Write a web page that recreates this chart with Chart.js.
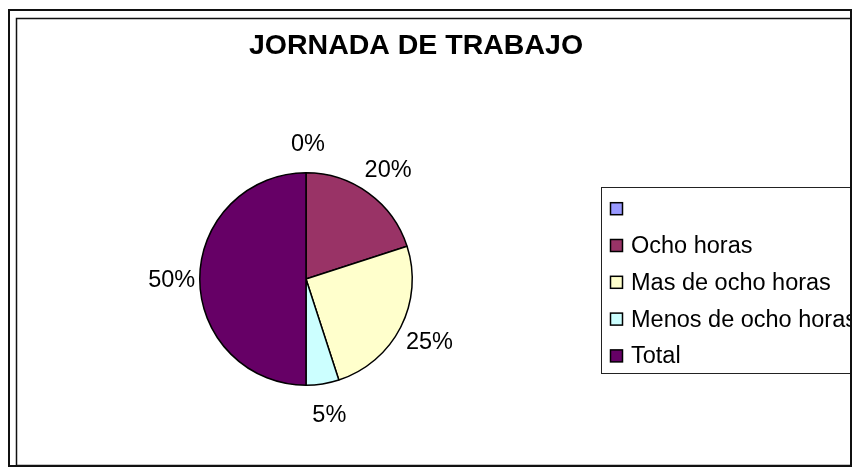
<!DOCTYPE html>
<html>
<head>
<meta charset="utf-8">
<script src="https://cdn.jsdelivr.net/npm/chart.js@4"></script>
<style>
  body { margin: 0; background: #fff; }
  #caja { width: 854px; height: 468px; }
</style>
</head>
<body>
<div id="caja"><canvas id="myChart" width="854" height="468"></canvas></div>
<script>
// datos del grafico
const titulo = "JORNADA DE TRABAJO";
const etiquetas = ["", "Ocho horas", "Mas de ocho horas", "Menos de ocho horas", "Total"];
const valores = [0, 20, 25, 5, 50];
const colores = ["#9999FF", "#993366", "#FFFFCC", "#CCFFFF", "#660066"];

const fuente = '"Liberation Sans", Arial, sans-serif';

// marco, titulo, porcentajes y leyenda
const dibujo = {
  id: "dibujo",
  beforeDraw(chart) {
    const c = chart.ctx;
    c.save();
    c.fillStyle = "#fff";
    c.fillRect(0, 0, chart.width, chart.height);
    c.strokeStyle = "#111";
    c.lineWidth = 2;
    c.strokeRect(9, 10, 842, 456);
    c.lineWidth = 1.5;
    c.strokeRect(16.5, 18.5, 834.5, 447);
    c.fillStyle = "#000";
    c.font = "bold 28.5px " + fuente;
    c.textAlign = "center";
    c.textBaseline = "alphabetic";
    c.fillText(titulo, 416, 54);
    c.restore();
  },
  afterDatasetsDraw(chart) {
    const c = chart.ctx;
    const meta = chart.getDatasetMeta(0);
    const total = valores.reduce((a, b) => a + b, 0);
    c.save();
    c.font = "23.5px " + fuente;
    c.fillStyle = "#000";
    c.textAlign = "center";
    c.textBaseline = "middle";
    meta.data.forEach((arc, i) => {
      const p = arc.getProps(["x", "y", "startAngle", "endAngle", "outerRadius"], true);
      const a = (p.startAngle + p.endAngle) / 2;
      const r = p.outerRadius + 30;
      const txt = Math.round(valores[i] / total * 100) + "%";
      c.fillText(txt, p.x + 2 + Math.cos(a) * r, p.y + 2 + Math.sin(a) * r);
    });

    // leyenda (recortada por el marco)
    c.beginPath();
    c.rect(0, 0, 850, chart.height);
    c.clip();
    c.strokeStyle = "#222";
    c.lineWidth = 1;
    c.strokeRect(601.5, 187.5, 270, 186);
    c.font = "23.5px " + fuente;
    c.textAlign = "left";
    etiquetas.forEach((et, i) => {
      const y = 208.7 + i * 36.8;
      c.fillStyle = colores[i];
      c.fillRect(610.5, y - 6, 12, 12);
      c.strokeStyle = "#000";
      c.lineWidth = 1.5;
      c.strokeRect(610.5, y - 6, 12, 12);
      c.fillStyle = "#000";
      c.fillText(et, 631, y + 1);
    });
    c.restore();
  }
};

var ctx = document.getElementById("myChart");
var pieChart = new Chart(ctx, {
  type: "pie",
  data: {
    labels: etiquetas,
    datasets: [
      {
        data: valores,
        backgroundColor: colores,
        borderColor: "#000",
        borderWidth: 1.5,
        hoverOffset: 0,
      },
    ],
  },
  options: {
    responsive: false,
    animation: false,
    layout: {
      padding: { left: 199, right: 441, top: 172, bottom: 82 },
    },
    plugins: {
      legend: { display: false },
      title: { display: false },
      tooltip: { enabled: false },
    },
  },
  plugins: [dibujo],
});
</script>
</body>
</html>
